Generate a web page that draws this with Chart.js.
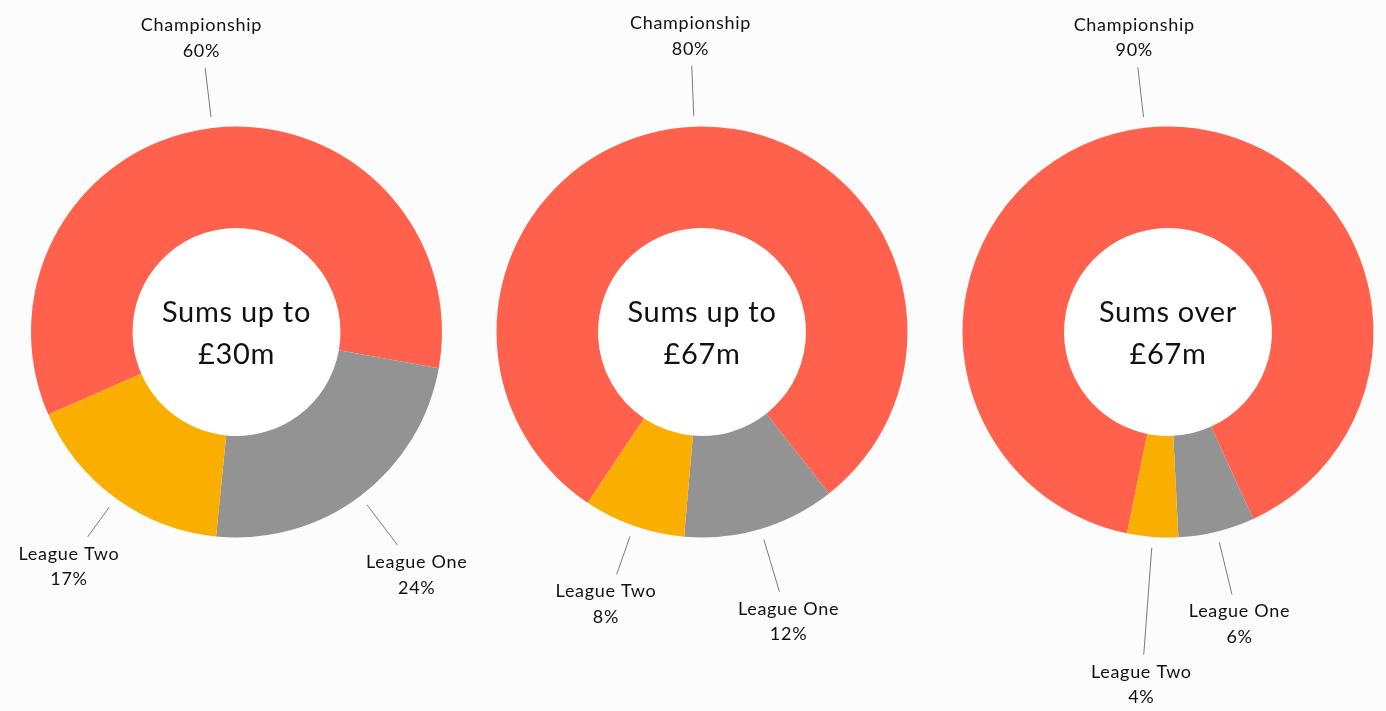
<!DOCTYPE html>
<html>
<head>
<meta charset="utf-8">
<title>Transfer fees by league</title>
<script src="https://cdn.jsdelivr.net/npm/chart.js@4"></script>
<style>
  html, body { margin: 0; padding: 0; background: #fcfcfc; }
  body { width: 1386px; height: 711px; position: relative; overflow: hidden; }
  canvas { position: absolute; top: 0; }
</style>
</head>
<body>
<canvas id="c1" width="600" height="711" style="left:-64px"></canvas>
<canvas id="c2" width="600" height="711" style="left:402px"></canvas>
<canvas id="c3" width="600" height="711" style="left:868px"></canvas>
<script>
// Leagues, in drawing order
const leagues = ['Championship', 'League One', 'League Two'];

// Share of spending (%) for each fee band
const upTo30m = [60, 24, 17];
const upTo67m = [80, 12, 8];
const over67m = [90, 6, 4];

// Centre captions
const caption1 = ['Sums up to', '£30m'];
const caption2 = ['Sums up to', '£67m'];
const caption3 = ['Sums over', '£67m'];

const sliceColours = ['#ff614c', '#939393', '#faae00'];
const FONT = 'Lato, "Noto Sans", sans-serif';

// Draws the white hole, the caption and the leader-line labels
const donutLabels = {
  id: 'donutLabels',
  beforeDatasetsDraw(chart) {
    const arc = chart.getDatasetMeta(0).data[0];
    if (!arc) return;
    const ctx = chart.ctx;
    ctx.save();
    ctx.fillStyle = '#ffffff';
    ctx.beginPath();
    ctx.arc(arc.x, arc.y, arc.innerRadius, 0, Math.PI * 2);
    ctx.fill();
    ctx.restore();
  },
  afterDatasetsDraw(chart, args, opts) {
    const ctx = chart.ctx;
    const meta = chart.getDatasetMeta(0);
    const values = chart.data.datasets[0].data;
    const labels = chart.data.labels;
    ctx.save();
    // caption
    const a0 = meta.data[0];
    ctx.fillStyle = '#111111';
    ctx.textAlign = 'center';
    ctx.textBaseline = 'alphabetic';
    ctx.font = '29px ' + FONT;
    ctx.letterSpacing = '0.7px';
    ctx.fillText(opts.caption[0], a0.x, a0.y - 10.5);
    ctx.fillText(opts.caption[1], a0.x, a0.y + 31.5);

    // slice labels
    ctx.font = '18px ' + FONT;
    ctx.letterSpacing = '0.7px';
    meta.data.forEach((el, i) => {
      const mid = (el.startAngle + el.endAngle) / 2;
      const c = Math.cos(mid), s = Math.sin(mid);
      const r0 = el.outerRadius + 11;
      const r1 = el.outerRadius + opts.leader[i];
      const x0 = el.x + c * r0, y0 = el.y + s * r0;
      const x1 = el.x + c * r1, y1 = el.y + s * r1;
      ctx.strokeStyle = '#7a7a7a';
      ctx.lineWidth = 1;
      ctx.beginPath();
      ctx.moveTo(x0, y0);
      ctx.lineTo(x1, y1);
      ctx.stroke();
      const tx = x1 + c * 32;
      let b1, b2;
      if (s > 0) { b1 = y1 + 23; b2 = y1 + 48.5; }
      else { b2 = y1 - 11; b1 = b2 - 25.5; }
      ctx.fillStyle = '#111111';
      ctx.fillText(labels[i], tx, b1);
      ctx.fillText(values[i] + '%', tx, b2);
    });
    ctx.restore();
  }
};

function makeDonut(id, values, caption, rotation, padL, padR, leader) {
  return new Chart(document.getElementById(id), {
    type: 'doughnut',
    data: {
      labels: leagues,
      datasets: [{
        data: values,
        backgroundColor: sliceColours,
        borderWidth: 0,
        hoverOffset: 0
      }]
    },
    options: {
      responsive: false,
      animation: false,
      cutout: '50.6%',
      rotation: rotation,
      layout: { padding: { left: padL, right: padR, top: 126.5, bottom: 173.5 } },
      plugins: {
        legend: { display: false },
        tooltip: { enabled: false },
        donutLabels: { caption: caption, leader: leader }
      },
      events: []
    },
    plugins: [donutLabels]
  });
}

makeDonut('c1', upTo30m, caption1, 246.3, 95, 94, [60.5, 61.5, 47.5]);
makeDonut('c2', upTo67m, caption2, 213.8, 94.5, 94.5, [61, 65.5, 51.5]);
makeDonut('c3', over67m, caption3, 191.5, 94.5, 94.5, [61, 64.5, 118]);
</script>
</body>
</html>
